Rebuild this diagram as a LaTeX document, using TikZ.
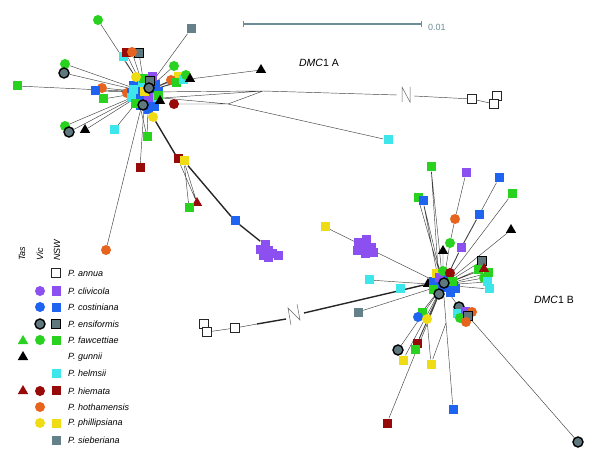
\documentclass[tikz,border=0pt]{standalone}
\usepackage{fontspec}
\setmainfont{Liberation Sans}
\usetikzlibrary{shapes.geometric}
\usetikzlibrary{backgrounds}
\definecolor{mpurple}{RGB}{140,80,240}
\definecolor{mblue}{RGB}{30,100,240}
\definecolor{mgray}{RGB}{95,120,126}
\definecolor{mslate}{RGB}{100,128,136}
\definecolor{mgreen}{RGB}{40,210,30}
\definecolor{mcyan}{RGB}{60,230,235}
\definecolor{mdred}{RGB}{150,10,10}
\definecolor{morange}{RGB}{230,100,30}
\definecolor{myellow}{RGB}{240,220,20}
\definecolor{mscale}{RGB}{110,140,150}

\begin{document}
\begin{tikzpicture}[x=1pt, y=-1pt,
    nsw/.style={rectangle, minimum size=9pt, inner sep=0pt, fill=#1},
    vic/.style={circle, minimum size=10pt, inner sep=0pt, fill=#1},
    tas/.style={regular polygon, regular polygon sides=3, minimum size=12pt, inner sep=0pt, fill=#1},
    annua/.style={rectangle, minimum size=9pt, inner sep=0pt, draw=black!85, fill=white, line width=.8pt},
    enssq/.style={nsw=mgray, draw=black, line width=1pt},
    ensci/.style={vic=mgray, draw=black, line width=1.4pt},
    branch/.style={draw=black!75, line width=.45pt},
    trunk/.style={draw=black!85, line width=1.4pt},
    breakmark/.style={draw=black!60, line width=.5pt},
    taxon/.style={font=\fontsize{9}{10}\selectfont\itshape, anchor=west, inner sep=0pt},
    colhead/.style={font=\fontsize{9}{10}\selectfont\itshape, rotate=90, anchor=west, inner sep=0pt},
]
\useasboundingbox (0,0) rectangle (600,457);

% scale bar
\coordinate (barL) at (243,24);
\coordinate (barR) at (421,24);
\draw[mscale, line width=1.5pt] (barL) -- (barR);
\draw[mscale, line width=.8pt] (243,21) -- (243,27) (421,21) -- (421,27);
\node[anchor=west, inner sep=0pt, text=mscale, font=\fontsize{9}{10}\selectfont] (barLab) at (428,27) {0.01};

\node[font=\fontsize{10.5}{12}\selectfont] (labA) at (319,63) {\textit{DMC}1 A};
\node[font=\fontsize{10.5}{12}\selectfont] (labB) at (554,300) {\textit{DMC}1 B};

% ---------------- DMC1 A ----------------
\coordinate (hubA) at (145,92);
\coordinate (hubA2) at (162,98);
\coordinate (retA1) at (263,91);
\coordinate (retA2) at (228,104);
\coordinate (brkA1) at (397,95);
\coordinate (brkA2) at (414,96);

\node[vic=mgreen] (fawA1) at (98,20) {};
\node[nsw=mslate] (sieA1) at (191,29) {};
\node[nsw=mcyan] (helA1) at (123,57) {};
\node[nsw=mdred] (hieA1) at (126,53) {};
\node[enssq] (ensA1) at (139,53) {};
\node[vic=morange] (hotA1) at (132,52) {};
\node[vic=mgreen] (fawA2) at (65,64) {};
\node[ensci] (ensA2) at (64,73) {};
\node[nsw=mgreen] (fawA3) at (17,86) {};
\node[vic=morange] (hotA2) at (102,88) {};
\node[nsw=mblue] (cosA1) at (95,91) {};
\node[nsw=mgreen] (fawA4) at (103,99) {};
\node[vic=morange] (hotA3) at (127,93) {};

\node[vic=mgreen] (fawA5) at (174,66) {};
\node[nsw=myellow] (phiA1) at (178,77) {};
\node[vic=morange] (hotA4) at (171,80) {};
\node[nsw=mgreen] (fawA6) at (176,83) {};
\node[nsw=mcyan] (helA2) at (183,80) {};
\node[vic=mgreen] (fawA7) at (186,75) {};
\node[tas=black] (gunA1) at (190,79) {};
\node[tas=black] (gunA2) at (261,70) {};

\node[nsw=mblue] (cA1) at (138,80) {};
\node[nsw=mblue] (cA2) at (133,86) {};
\node[nsw=mblue] (cA3) at (140,88) {};
\node[nsw=mblue] (cA4) at (147,85) {};
\node[nsw=mblue] (cA5) at (155,85) {};
\node[nsw=mblue] (cA6) at (158,92) {};
\node[nsw=mblue] (cA7) at (152,93) {};
\node[nsw=mblue] (cA8) at (137,95) {};
\node[nsw=mblue] (cA9) at (144,99) {};
\node[nsw=mblue] (cA10) at (151,103) {};
\node[nsw=mblue] (cA11) at (140,106) {};
\node[nsw=mblue] (cA12) at (154,107) {};
\node[nsw=mblue] (cA13) at (148,110) {};
\node[nsw=mblue] (cA14) at (131,93) {};
\node[nsw=mcyan] (cA15) at (142,83) {};
\node[nsw=mcyan] (cA16) at (133,90) {};
\node[nsw=mcyan] (cA17) at (131,98) {};
\node[nsw=mcyan] (cA18) at (154,98) {};
\node[nsw=mgreen] (cA19) at (143,79) {};
\node[nsw=mgreen] (cA20) at (135,104) {};
\node[nsw=mgreen] (cA21) at (158,96) {};
\node[nsw=mpurple] (cA22) at (152,77) {};
\node[nsw=mpurple] (cA23) at (148,98) {};
\node[nsw=myellow] (cA24) at (144,92) {};
\node[enssq] (cA25) at (150,81) {};
\node[vic=myellow] (cA26) at (136,77) {};
\node[ensci] (cA27) at (149,88) {};
\node[ensci] (cA28) at (143,105) {};
\node[tas=black] (cA29) at (160,101) {};
\node[vic=mdred] (hieA5) at (174,104) {};
\node[vic=myellow] (phiA3) at (153,117) {};

\node[vic=mgreen] (fawA8) at (65,126) {};
\node[ensci] (ensA3) at (69,132) {};
\node[tas=black] (gunA3) at (85,130) {};
\node[nsw=mcyan] (helA3) at (114,130) {};
\node[nsw=mgreen] (fawA9) at (147,137) {};
\node[nsw=mdred] (hieA2) at (140,168) {};
\node[vic=morange] (hotA5) at (106,250) {};
\node[nsw=mdred] (hieA3) at (178,159) {};
\node[nsw=myellow] (phiA2) at (184,161) {};
\node[tas=mdred] (hieA4) at (197,203) {};
\node[nsw=mgreen] (fawA10) at (189,208) {};
\node[nsw=mblue] (cosA2) at (235,221) {};
\node[nsw=mpurple] (cliA1) at (265,245) {};
\node[nsw=mpurple] (cliA2) at (260,250) {};
\node[nsw=mpurple] (cliA3) at (268,251) {};
\node[nsw=mpurple] (cliA4) at (263,256) {};
\node[nsw=mpurple] (cliA5) at (272,254) {};
\node[nsw=mpurple] (cliA6) at (278,256) {};
\node[nsw=mpurple] (cliA7) at (268,258) {};
\node[nsw=mcyan] (helA4) at (388,140) {};
\node[annua] (annA1) at (472,99) {};
\node[annua] (annA2) at (497,96) {};
\node[annua] (annA3) at (494,104) {};

\draw[breakmark] (402,102) -- (402,87) -- (410,102) -- (410,87);

% ---------------- DMC1 B ----------------
\coordinate (hubB) at (443,285);
\coordinate (hubB2) at (439,283);
\coordinate (forkB) at (446,323);
\coordinate (brkB1) at (286,319);
\coordinate (brkB2) at (304,313);
\coordinate (kinkB) at (257,324);

\node[nsw=mgreen] (fawB1) at (431,167) {};
\node[nsw=mpurple] (cliB1) at (466,173) {};
\node[nsw=mblue] (cosB1) at (499,178) {};
\node[nsw=mgreen] (fawB2) at (512,194) {};
\node[nsw=mgreen] (fawB3) at (418,198) {};
\node[nsw=mblue] (cosB2) at (423,201) {};
\node[vic=morange] (hotB1) at (455,219) {};
\node[nsw=mblue] (cosB3) at (479,215) {};
\node[tas=black] (gunB1) at (511,230) {};
\node[vic=mgreen] (fawB4) at (450,243) {};
\node[nsw=mpurple] (cliB2) at (461,248) {};
\node[tas=black] (gunB2) at (443,251) {};

\node[enssq] (ensB1) at (482,261) {};
\node[nsw=mgreen] (fawB5) at (478,270) {};
\node[nsw=mgreen] (fawB6) at (488,273) {};
\node[tas=mdred] (hieB1) at (484,269) {};
\node[vic=mgreen] (fawB7) at (484,278) {};
\node[nsw=mcyan] (helB1) at (487,282) {};
\node[nsw=mcyan] (helB2) at (489,289) {};

\node[nsw=myellow] (phiB1) at (325,227) {};
\node[nsw=mpurple] (cliB3) at (358,243) {};
\node[nsw=mpurple] (cliB4) at (366,240) {};
\node[nsw=mpurple] (cliB5) at (363,247) {};
\node[nsw=mpurple] (cliB6) at (371,248) {};
\node[nsw=mpurple] (cliB7) at (357,251) {};
\node[nsw=mpurple] (cliB8) at (365,254) {};
\node[nsw=mpurple] (cliB9) at (373,253) {};
\node[nsw=mcyan] (helB3) at (369,280) {};
\node[nsw=mcyan] (helB4) at (400,289) {};
\node[tas=black] (gunB3) at (428,284) {};
\node[nsw=mslate] (sieB1) at (358,312) {};
\node[annua] (annB1) at (204,324) {};
\node[annua] (annB2) at (207,332) {};
\node[annua] (annB3) at (235,328) {};

\node[nsw=mblue] (cB1) at (433,282) {};
\node[nsw=mblue] (cB2) at (437,287) {};
\node[nsw=mblue] (cB3) at (442,288) {};
\node[nsw=mblue] (cB4) at (448,287) {};
\node[nsw=mblue] (cB5) at (453,286) {};
\node[nsw=mblue] (cB6) at (447,277) {};
\node[nsw=mblue] (cB7) at (455,289) {};
\node[nsw=mblue] (cB8) at (442,280) {};
\node[nsw=mblue] (cB9) at (438,292) {};
\node[nsw=mblue] (cB10) at (450,292) {};
\node[nsw=myellow] (cB11) at (436,274) {};
\node[nsw=mpurple] (cB12) at (439,278) {};
\node[vic=mgreen] (cB13) at (443,271) {};
\node[vic=mdred] (cB14) at (450,273) {};
\node[nsw=mgreen] (cB15) at (452,282) {};
\node[nsw=mgreen] (cB16) at (433,290) {};
\node[ensci] (cB17) at (444,283) {};
\node[ensci] (cB18) at (439,294) {};

\node[nsw=mgreen] (fawB8) at (422,312) {};
\node[vic=mblue] (cosB4) at (418,317) {};
\node[vic=myellow] (phiB2) at (427,319) {};
\node[ensci] (ensB2) at (459,307) {};
\node[nsw=mcyan] (helB5) at (457,313) {};
\node[nsw=mpurple] (cliB10) at (465,311) {};
\node[vic=morange] (hotB2) at (472,312) {};
\node[vic=mgreen] (fawB9) at (460,318) {};
\node[enssq] (ensB3) at (468,316) {};
\node[vic=morange] (hotB3) at (466,322) {};
\node[ensci] (ensB4) at (398,350) {};
\node[nsw=mdred] (hieB2) at (417,343) {};
\node[nsw=mgreen] (fawB10) at (415,349) {};
\node[nsw=myellow] (phiB3) at (403,360) {};
\node[nsw=myellow] (phiB4) at (431,364) {};
\node[nsw=mblue] (cosB5) at (453,409) {};
\node[nsw=mdred] (hieB3) at (387,423) {};
\node[ensci] (ensB5) at (578,442) {};

\draw[breakmark] (291,325) -- (288,308) -- (300,320) -- (297,304);

% branches, behind the markers
\begin{scope}[on background layer]
\draw[branch] (hubA) -- (fawA1) (hubA) -- (sieA1) (hubA) -- (helA1) (hubA) -- (hieA1) (hubA) -- (hotA1) (hubA) -- (ensA1);
\draw[branch] (hubA) -- (fawA2) (hubA) -- (ensA2) (hubA) -- (fawA3) (hubA) -- (cosA1) (hubA) -- (hotA2) (hubA) -- (fawA4);
\draw[branch] (hubA) -- (fawA5) (hubA) -- (phiA1) (hubA) -- (hotA4) (hubA) -- (fawA6) (hubA) -- (helA2) (hubA) -- (fawA7) (hubA) -- (gunA1);
\draw[branch] (gunA1) -- (gunA2);
\draw[branch] (hubA) -- (fawA8) (hubA) -- (ensA3) (hubA) -- (gunA3) (hubA) -- (helA3) (hubA) -- (hieA2) (hubA) -- (hotA5);
\draw[branch] (cA11) -- (fawA9) (cA13) -- (fawA9);
\draw[branch] (hubA) -- (retA1) (hubA2) -- (retA1) (hubA2) -- (retA2) (hieA5) -- (retA2) (retA2) -- (retA1);
\draw[branch] (retA2) -- (helA4);
\draw[branch] (retA1) -- (brkA1) (brkA2) -- (annA1) (annA1) -- (annA3) (annA3) -- (annA2);
\draw[branch] (hubA) -- (phiA3);
\draw[trunk] (phiA3) -- (hieA3) (phiA2) -- (cosA2) (cosA2) -- (cliA1);
\draw[branch] (phiA2) -- (hieA4) (hieA3) -- (hieA4) (phiA2) -- (fawA10);

\draw[branch] (hubB) -- (fawB1) (hubB2) -- (fawB1) (hubB) -- (fawB3) (hubB) -- (cosB2) (hubB2) -- (cosB2);
\draw[branch] (hubB) -- (fawB4) (fawB4) -- (hotB1) (hotB1) -- (cliB1);
\draw[branch, line width=.9pt] (hubB) -- (cliB2) (cliB2) -- (cosB3);
\draw[branch] (cosB3) -- (cosB1) (hubB) -- (fawB2) (hubB) -- (gunB1) (hubB) -- (gunB2);
\draw[branch] (hubB) -- (ensB1) (hubB) -- (hieB1) (hubB) -- (fawB5) (hubB) -- (fawB6) (hubB) -- (fawB7) (hubB) -- (helB1) (hubB) -- (helB2);
\draw[branch] (hubB) -- (phiB1) (hubB) -- (helB3) (hubB) -- (sieB1) (hubB) -- (gunB3);
\draw[trunk] (gunB3) -- (brkB2) (brkB1) -- (kinkB);
\draw[branch] (kinkB) -- (annB3) (annB3) -- (annB2);
\draw[branch] (hubB) -- (fawB8) (hubB) -- (cosB4) (hubB) -- (phiB2);
\draw[branch] (hubB) -- (ensB4) (hubB) -- (hieB2) (hubB) -- (fawB10) (hubB) -- (phiB3) (hubB) -- (hieB3) (hubB) -- (cosB5);
\draw[branch] (phiB4) -- (phiB2) (phiB4) -- (forkB);
\draw[branch] (hubB) -- (ensB2) (ensB2) -- (ensB3) (ensB3) -- (ensB5);
\end{scope}

% ---------------- legend ----------------
\node[colhead] (hdTas) at (22,261) {Tas};
\node[colhead] (hdVic) at (40,261) {Vic};
\node[colhead] (hdNSW) at (57,261) {NSW};

\node[annua] (lgAnnS) at (56,273) {};
\node[vic=mpurple] (lgCliV) at (40,291) {};
\node[nsw=mpurple] (lgCliS) at (56,291) {};
\node[vic=mblue] (lgCosV) at (40,307) {};
\node[nsw=mblue] (lgCosS) at (56,307) {};
\node[ensci] (lgEnsV) at (40,324) {};
\node[enssq] (lgEnsS) at (56,324) {};
\node[tas=mgreen] (lgFawT) at (23,341) {};
\node[vic=mgreen] (lgFawV) at (40,340) {};
\node[nsw=mgreen] (lgFawS) at (56,340) {};
\node[tas=black] (lgGunT) at (23,357) {};
\node[nsw=mcyan] (lgHelS) at (56,373) {};
\node[tas=mdred] (lgHieT) at (23,391) {};
\node[vic=mdred] (lgHieV) at (40,391) {};
\node[nsw=mdred] (lgHieS) at (56,390) {};
\node[vic=morange] (lgHotV) at (40,407) {};
\node[vic=myellow] (lgPhiV) at (40,423) {};
\node[nsw=myellow] (lgPhiS) at (56,423) {};
\node[nsw=mslate] (lgSieS) at (56,440) {};

\node[taxon] (txAnn) at (68,273) {P. annua};
\node[taxon] (txCli) at (68,291) {P. clivicola};
\node[taxon] (txCos) at (68,307) {P. costiniana};
\node[taxon] (txEns) at (68,324) {P. ensiformis};
\node[taxon] (txFaw) at (68,340) {P. fawcettiae};
\node[taxon] (txGun) at (68,357) {P. gunnii};
\node[taxon] (txHel) at (68,373) {P. helmsii};
\node[taxon] (txHie) at (68,391) {P. hiemata};
\node[taxon] (txHot) at (68,407) {P. hothamensis};
\node[taxon] (txPhi) at (68,423) {P. phillipsiana};
\node[taxon] (txSie) at (68,440) {P. sieberiana};
\end{tikzpicture}
\end{document}
